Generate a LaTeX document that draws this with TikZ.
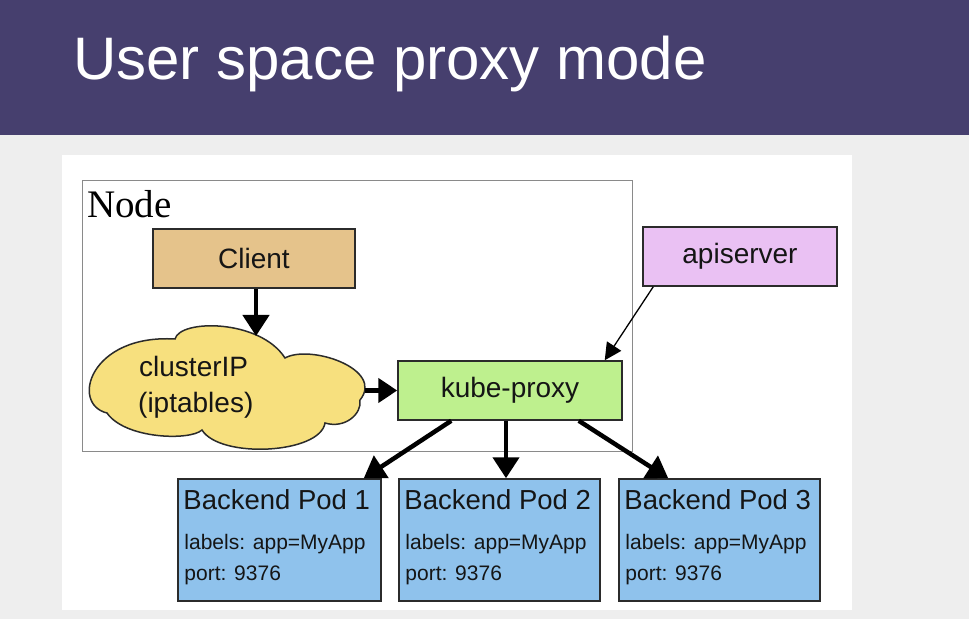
\documentclass[tikz,border=0pt]{standalone}
\usepackage{fontspec}
\setmainfont{Liberation Sans}
\newfontfamily\nodeserif{Liberation Serif}
\usetikzlibrary{arrows.meta,calc}
\definecolor{titlebar}{HTML}{463F6E}
\definecolor{bggray}{HTML}{EEEEEE}
\definecolor{clientfill}{HTML}{E5C38B}
\definecolor{cloudfill}{HTML}{F7E07E}
\definecolor{kpfill}{HTML}{BEF08E}
\definecolor{apifill}{HTML}{EAC1F3}
\definecolor{podfill}{HTML}{8FC2EC}
\definecolor{boxline}{HTML}{2B2B2B}
\definecolor{framegray}{HTML}{8A8A8A}
\definecolor{textcol}{HTML}{151515}
\begin{document}
\begin{tikzpicture}[x=1pt,y=1pt,
  box/.style={draw=boxline, line width=1.5pt, inner sep=0pt, text=textcol,
    font=\fontsize{28}{28}\selectfont},
  podbox/.style={box, fill=podfill, minimum height=122pt},
  podtitle/.style={anchor=base west, inner sep=0pt, text=textcol, font=\fontsize{27.5}{27.5}\selectfont},
  podtext/.style={anchor=base west, inner sep=0pt, text=textcol, font=\fontsize{21}{21}\selectfont},
  thickarrow/.style={line width=4.5pt, draw=black, -{Triangle[width=26pt,length=21pt]}},
  thinarrow/.style={line width=1.3pt, draw=black, -{Triangle[width=17pt,length=17pt]}}]
\useasboundingbox (0,0) rectangle (969,619);
% backgrounds
\fill[bggray] (0,0) rectangle (969,619);
\fill[white] (62,9) rectangle (852,464);
\fill[titlebar] (0,484) rectangle (969,619);
\node[anchor=base west, inner sep=0pt, text=white, font=\fontsize{60}{60}\selectfont] (title) at (73,539) {User space proxy mode};
% Node frame
\node[draw=framegray, line width=1pt, minimum width=550pt, minimum height=270pt, inner sep=0pt] (frame) at (357,303) {};
\node[anchor=base west, inner sep=0pt, text=black, font=\nodeserif\fontsize{39}{39}\selectfont] (nodelabel) at (87,401) {Node};
% boxes
\node[box, fill=clientfill, minimum width=202pt, minimum height=59pt] (client) at (254,360.5) {Client};
\node[box, fill=kpfill, minimum width=224pt, minimum height=59pt] (kp) at (510,228.5) {kube-proxy};
\node[box, fill=apifill, minimum width=194pt, minimum height=59pt] (api) at (740,362.5) {apiserver};
% cloud
\path[draw=boxline, line width=1.5pt, fill=cloudfill]
  (107,206) .. controls (70,215) and (90,285) .. (175,280)
  .. controls (180,300) and (260,300) .. (285,261)
  .. controls (310,275) and (385,250) .. (360,219)
  .. controls (362,205) and (345,190) .. (325,196)
  .. controls (320,165) and (220,160) .. (202,189)
  .. controls (190,178) and (125,180) .. (107,206) -- cycle;
\coordinate (cloudtop) at (256,283);
\coordinate (cloudright) at (364.5,228.5);
\node[anchor=base west, inner sep=0pt, text=textcol, font=\fontsize{28}{28}\selectfont] (cip1) at (139,242) {clusterIP};
\node[anchor=base west, inner sep=0pt, text=textcol, font=\fontsize{28}{28}\selectfont] (cip2) at (138,207) {(iptables)};
% pods
\node[podbox, minimum width=203pt] (pod1) at (279.5,79) {};
\node[podbox, minimum width=201pt] (pod2) at (499.5,79) {};
\node[podbox, minimum width=201pt] (pod3) at (719.5,79) {};
\foreach \p/\n in {pod1/1,pod2/2,pod3/3}{
  \node[podtitle] (\p t) at ($(\p.north west)+(6,-31)$) {Backend Pod \n};
  \node[podtext] (\p l) at ($(\p.north west)+(7,-71)$) {labels: app=MyApp};
  \node[podtext] (\p p) at ($(\p.north west)+(7,-102)$) {port: 9376};
}
% connectors
\draw[thickarrow] (client.south -| cloudtop) -- (cloudtop);
\draw[thickarrow, -{Triangle[width=24pt,length=19pt]}] (cloudright) -- (cloudright -| kp.west);
\draw[thickarrow] ($(kp.south west)+(54,0)$) -- ($(pod1.north east)+(-18,0)$);
\draw[thickarrow] ($(kp.south)+(-4,0)$) -- ($(pod2.north)+(6.5,0)$);
\draw[thickarrow] ($(kp.south east)+(-44,0)$) -- ($(pod3.north west)+(50,0)$);
\draw[thinarrow] ($(api.south west)+(11,0)$) -- ($(kp.north east)+(-18,0)$);
\end{tikzpicture}
\end{document}
